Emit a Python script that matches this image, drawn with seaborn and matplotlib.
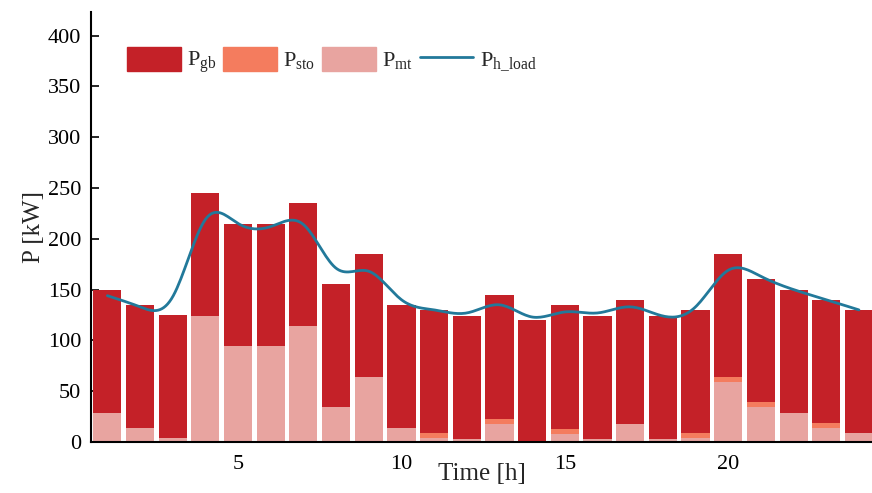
import numpy as np
import pandas as pd
import seaborn as sns
import matplotlib
matplotlib.use("Agg")
import matplotlib.pyplot as plt
from matplotlib.patches import Patch
from matplotlib.lines import Line2D

# hourly data
hours = list(range(1, 25))
p_total = [150, 135, 125, 245, 215, 215, 235, 155, 185, 135, 130, 124,
           145, 120, 135, 124, 140, 124, 130, 185, 160, 150, 140, 130]
p_mt = [29, 14, 4, 124, 94, 94, 114, 34, 64, 14, 4, 3,
        18, 0, 8, 3, 18, 3, 4, 59, 34, 29, 14, 9]
p_sto = [0, 0, 0, 0, 0, 0, 0, 0, 0, 0, 5, 0,
         5, 0, 5, 0, 0, 0, 5, 5, 5, 0, 5, 0]
p_h_load = [144, 133, 143, 219, 215, 212, 214, 171, 168, 140, 130, 127,
            135, 123, 128, 127, 133, 124, 133, 169, 163, 150, 140, 130]

c_gb = "#C42128"
c_sto = "#F47C5E"
c_mt = "#E8A4A0"
c_line = "#22799A"


def natural_spline(x, y, n=400):
    # natural cubic spline, used only to draw the load curve smoothly
    x = np.asarray(x, float)
    y = np.asarray(y, float)
    k = len(x)
    h = np.diff(x)
    A = np.zeros((k, k))
    b = np.zeros(k)
    A[0, 0] = A[-1, -1] = 1
    for i in range(1, k - 1):
        A[i, i - 1] = h[i - 1]
        A[i, i] = 2 * (h[i - 1] + h[i])
        A[i, i + 1] = h[i]
        b[i] = 3 * ((y[i + 1] - y[i]) / h[i] - (y[i] - y[i - 1]) / h[i - 1])
    c = np.linalg.solve(A, b)
    xs = np.linspace(x[0], x[-1], n)
    idx = np.clip(np.searchsorted(x, xs) - 1, 0, k - 2)
    dx = xs - x[idx]
    bb = (y[idx + 1] - y[idx]) / h[idx] - h[idx] * (2 * c[idx] + c[idx + 1]) / 3
    dd = (c[idx + 1] - c[idx]) / (3 * h[idx])
    return xs, y[idx] + bb * dx + c[idx] * dx ** 2 + dd * dx ** 3


sns.set_style("ticks")
plt.rcParams["font.family"] = ["Liberation Serif", "DejaVu Serif"]
plt.rcParams["mathtext.fontset"] = "custom"
plt.rcParams["mathtext.rm"] = "Liberation Serif"
plt.rcParams["mathtext.it"] = "Liberation Serif:italic"

df = pd.DataFrame({"hour": hours, "total": p_total, "mt": p_mt, "sto": p_sto})
df["mt_sto"] = df["mt"] + df["sto"]

fig = plt.figure(figsize=(8.72, 4.93), dpi=100)
ax = fig.add_axes([0.1044, 0.1034, 0.8956, 0.872])

bar_kw = dict(native_scale=True, width=0.86, errorbar=None, linewidth=0, ax=ax)
sns.barplot(data=df, x="hour", y="total", color=c_gb, saturation=1, **bar_kw)
sns.barplot(data=df, x="hour", y="mt_sto", color=c_sto, saturation=1, **bar_kw)
sns.barplot(data=df, x="hour", y="mt", color=c_mt, saturation=1, **bar_kw)

xs, ys = natural_spline(hours, p_h_load)
ax.plot(xs, ys, color=c_line, lw=2)

ax.set_xlim(0.5, 24.4)
ax.set_ylim(0, 423)
ax.set_xticks([5, 10, 15, 20])
ax.set_yticks(range(0, 401, 50))
ax.tick_params(direction="in", length=6, width=1.2, labelsize=16, colors="black")
ax.tick_params(axis="x", pad=9)
ax.tick_params(axis="y", pad=7)
for s in ["top", "right"]:
    ax.spines[s].set_visible(False)
for s in ["left", "bottom"]:
    ax.spines[s].set_linewidth(1.5)
    ax.spines[s].set_color("black")

ax.set_xlabel("Time [h]", fontsize=18)
ax.xaxis.set_label_coords(0.5, -0.048)
ax.set_ylabel("P [kW]", fontsize=18, labelpad=2)

handles = [Patch(color=c_gb), Patch(color=c_sto), Patch(color=c_mt),
           Line2D([], [], color=c_line, lw=2)]
labels = [r"$\mathrm{P_{gb}}$", r"$\mathrm{P_{sto}}$", r"$\mathrm{P_{mt}}$",
          r"$\mathrm{P_{h\_load}}$"]
ax.legend(handles, labels, ncol=4, frameon=False, fontsize=16,
          loc="upper left", bbox_to_anchor=(0.035, 0.94),
          handlelength=2.4, handleheight=1.3, handletextpad=0.3,
          columnspacing=0.3, borderaxespad=0)

fig.savefig("out.png", dpi=100)
